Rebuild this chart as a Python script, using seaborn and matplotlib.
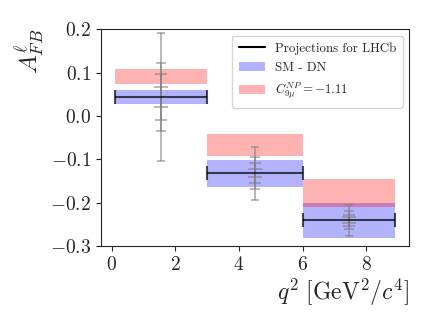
import seaborn as sns
import numpy as np
import matplotlib.pyplot as plt
from matplotlib.lines import Line2D
from matplotlib.patches import Patch

# q2 bins
bin_lo = [0.1, 3.0, 6.0]
bin_hi = [3.0, 6.0, 8.9]

# SM - DN band
sm_lo = [0.028, -0.164, -0.282]
sm_hi = [0.059, -0.102, -0.201]

# C9mu NP = -1.11 band
np_lo = [0.074, -0.093, -0.211]
np_hi = [0.109, -0.042, -0.145]

# LHCb projections (central value + errors for several luminosities)
proj_center = [0.0435, -0.132, -0.241]
err_lumi1 = [0.148, 0.061, 0.035]
err_lumi2 = [0.0795, 0.037, 0.021]
err_lumi3 = [0.054, 0.024, 0.013]
err_lumi4 = [0.022, 0.0097, 0.0066]

sns.set_style("ticks")
plt.rcParams['font.family'] = 'serif'
plt.rcParams['font.serif'] = ['cmr10', 'DejaVu Serif']
plt.rcParams['mathtext.fontset'] = 'cm'
plt.rcParams['axes.formatter.use_mathtext'] = True

fig = plt.figure(figsize=(4.31, 3.24), dpi=100)
ax = fig.add_axes([0.234, 0.241, 0.715, 0.669])

lo = np.array(bin_lo)
hi = np.array(bin_hi)
mid = (lo + hi) / 2
width = hi - lo

ax.bar(lo, np.array(sm_hi) - np.array(sm_lo), width=width, bottom=sm_lo,
       align='edge', color='blue', alpha=0.3, linewidth=0)
ax.bar(lo, np.array(np_hi) - np.array(np_lo), width=width, bottom=np_lo,
       align='edge', color='red', alpha=0.3, linewidth=0)

for err, cs in zip([err_lumi1, err_lumi2, err_lumi3, err_lumi4], [2.9, 3.6, 4.3, 4.7]):
    ax.errorbar(mid, proj_center, yerr=err, fmt='none', ecolor='gray',
                alpha=0.7, elinewidth=1.1, capsize=cs, capthick=1.1)

ax.errorbar(mid, proj_center, xerr=width / 2, fmt='none', ecolor='black',
            alpha=0.7, elinewidth=1.5, capsize=4.7, capthick=1.5)

ax.set_xlim(-0.34, 9.34)
ax.set_ylim(-0.3, 0.2)
ax.set_xticks([0, 2, 4, 6, 8])
ax.set_yticks([-0.3, -0.2, -0.1, 0.0, 0.1, 0.2])
ax.set_yticklabels(['$-0.3$', '$-0.2$', '$-0.1$', '$0.0$', '$0.1$', '$0.2$'])
ax.set_xticklabels(['$0$', '$2$', '$4$', '$6$', '$8$'])
ax.tick_params(labelsize=14)

ax.set_xlabel(r'$q^2\ [\mathrm{GeV}^2/c^4]$', fontsize=17, loc='right', labelpad=2)
ax.set_ylabel(r'$A_{FB}^{\ell}$', fontsize=18, loc='top', labelpad=2)

handles = [Line2D([], [], color='black', lw=1.5),
           Patch(facecolor='blue', alpha=0.3, linewidth=0),
           Patch(facecolor='red', alpha=0.3, linewidth=0)]
labels = ['Projections for LHCb', 'SM - DN', r'$C_{9\mu}^{NP} = -1.11$']
ax.legend(handles, labels, loc='upper right', fontsize=9.3, frameon=True,
          labelspacing=0.55, borderpad=0.5)

fig.savefig('out.png', dpi=100)
